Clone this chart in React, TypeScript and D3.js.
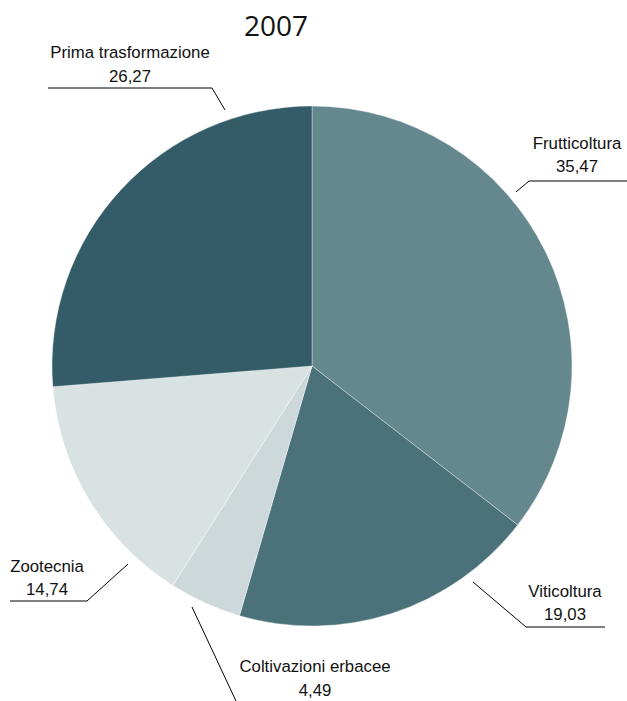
import React from "react";
import * as d3 from "d3";

const categories = ["Frutticoltura", "Viticoltura", "Coltivazioni erbacee", "Zootecnia", "Prima trasformazione"];
const values = [35.47, 19.03, 4.49, 14.74, 26.27];
const valueLabels = ["35,47", "19,03", "4,49", "14,74", "26,27"];
const colors = ["#65878e", "#4b727a", "#ccd8da", "#d9e2e3", "#335c68"];
const title = "2007";

// layout for the label callouts (positions only)
const labelLayout = [
  { line: [[516, 192], [529, 181], [627, 181]], tx: 577, ty1: 149, ty2: 172 },
  { line: [[473, 582], [526, 627], [605, 627]], tx: 565, ty1: 597, ty2: 620 },
  { line: [[192, 607], [236, 701]], tx: 315, ty1: 672, ty2: 696 },
  { line: [[128, 564], [87, 601], [10, 601]], tx: 47, ty1: 572, ty2: 595 },
  { line: [[225, 110], [212, 88], [48, 88]], tx: 130, ty1: 58, ty2: 82 },
];

export default function App() {
  const W = 627, H = 701;
  const cx = 312, cy = 366, R = 260;
  const pie = d3.pie<number>().sort(null).value((d) => d);
  const arcs = pie(values);
  const arc = d3.arc<d3.PieArcDatum<number>>().innerRadius(0).outerRadius(R);
  const lineGen = d3.line();
  return (
    <svg width={W} height={H} style={{ position: "absolute", left: 0, top: 0 }}>
      <text x={276} y={36} textAnchor="middle" fontFamily="'Open Sans', sans-serif" fontSize={28} fill="#111">
        {title}
      </text>
      <g transform={`translate(${cx},${cy})`}>
        {arcs.map((a, i) => (
          <path key={i} d={arc(a) || ""} fill={colors[i]} stroke="#ffffff" strokeOpacity={0.45} strokeWidth={0.8} />
        ))}
      </g>
      {labelLayout.map((l, i) => (
        <g key={i}>
          <path d={lineGen(l.line as [number, number][]) || ""} fill="none" stroke="#000" strokeWidth={1} />
          <text x={l.tx} y={l.ty1} textAnchor="middle" fontFamily="'Liberation Sans', Arial, sans-serif" fontSize={16.8} fill="#111">
            {categories[i]}
          </text>
          <text x={l.tx} y={l.ty2} textAnchor="middle" fontFamily="'Liberation Sans', Arial, sans-serif" fontSize={16.8} fill="#111">
            {valueLabels[i]}
          </text>
        </g>
      ))}
    </svg>
  );
}
